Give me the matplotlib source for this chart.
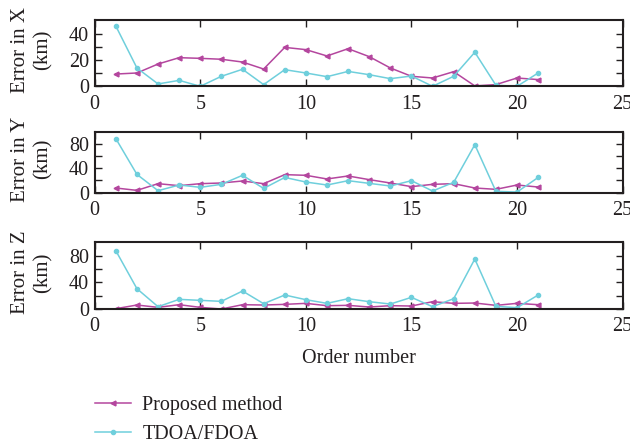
import numpy as np
import matplotlib
matplotlib.use("Agg")
import matplotlib.pyplot as plt

plt.rcParams['font.family'] = ['Liberation Serif', 'DejaVu Serif']

order = np.arange(1, 22)

prop_x = [9.3, 10.1, 16.9, 21.7, 21.2, 20.5, 18.4, 13.1, 29.5, 27.8, 23.0,
          28.5, 22.5, 13.9, 7.6, 6.3, 11.1, 0.3, 1.3, 6.3, 5.1]
tdoa_x = [45.7, 13.9, 1.8, 4.5, 0.0, 7.6, 12.9, 1.3, 12.6, 10.1, 7.3,
          11.3, 8.8, 5.8, 7.8, 0.0, 7.6, 25.8, 0.8, 0.0, 10.1]

prop_y = [7.7, 3.8, 14.8, 11.5, 14.8, 15.9, 19.2, 14.8, 29.6, 28.5, 22.5,
          27.4, 21.4, 15.9, 9.9, 13.7, 14.8, 7.7, 5.5, 12.6, 9.3]
tdoa_y = [88.7, 30.0, 3.3, 12.6, 8.8, 13.7, 28.5, 7.0, 25.0, 17.5, 12.6,
          19.7, 15.3, 11.0, 19.7, 2.7, 17.0, 78.7, 2.2, 1.1, 25.0]

prop_z = [0.5, 6.0, 2.5, 6.5, 2.5, 0.0, 6.5, 6.0, 7.0, 8.5, 5.0,
          5.5, 3.0, 5.0, 4.5, 11.0, 8.5, 9.0, 5.5, 8.5, 6.5]
tdoa_z = [87.5, 30.5, 3.5, 14.5, 13.0, 11.5, 27.0, 8.0, 21.0, 14.0, 8.5,
          15.5, 11.0, 7.5, 17.5, 3.5, 15.5, 75.0, 4.0, 2.0, 21.0]

ylabels = ["Error in X\n(km)", "Error in Y\n(km)", "Error in Z\n(km)"]
ylims = [50, 100, 100]
ysteps = [10, 20, 20]
ylab_steps = [20, 40, 40]

purple = '#b4469e'
cyan = '#6fcfdc'
txt = '#231f20'

fig = plt.figure(figsize=(6.3, 4.44), dpi=100)
rects = [[0.1503, 0.8056, 0.838, 0.1486],
         [0.1503, 0.5660, 0.838, 0.1374],
         [0.1503, 0.3040, 0.838, 0.1502]]

series = [(prop_x, tdoa_x), (prop_y, tdoa_y), (prop_z, tdoa_z)]

for i, (p, t) in enumerate(series):
    ax = fig.add_axes(rects[i])
    l1, = ax.plot(order, p, color=purple, marker='<', markersize=3.5, lw=1.1,
                  label='Proposed method')
    l2, = ax.plot(order, t, color=cyan, marker='o', markersize=3, lw=1.1,
                  label='TDOA/FDOA')
    ax.set_xlim(0, 25)
    ax.set_ylim(0, ylims[i])
    ax.set_xticks(range(0, 26, 5))
    yt = np.arange(0, ylims[i], ysteps[i])
    ax.set_yticks(yt)
    ax.set_yticklabels([str(int(v)) if v % ylab_steps[i] == 0 else '' for v in yt])
    ax.tick_params(direction='in', top=True, right=True, length=5, width=1,
                   labelsize=14.5, colors=txt, pad=4)
    ax.tick_params(axis='x', pad=6)
    for s in ax.spines.values():
        s.set_linewidth(1.5)
        s.set_color(txt)
    ax.set_ylabel(ylabels[i], fontsize=15, color=txt, linespacing=1.25)
    ax.yaxis.set_label_coords(-0.08, 0.55)
    if i == 2:
        ax.set_xlabel('Order number', fontsize=14.5, color=txt, labelpad=9)

fig.legend([l1, l2], ['Proposed method', 'TDOA/FDOA'], loc='upper left',
           bbox_to_anchor=(0.122, 0.15), frameon=False, fontsize=14.5,
           handlelength=1.8, handletextpad=0.55, labelspacing=0.5,
           labelcolor=txt)

fig.savefig('out.png', dpi=100)
